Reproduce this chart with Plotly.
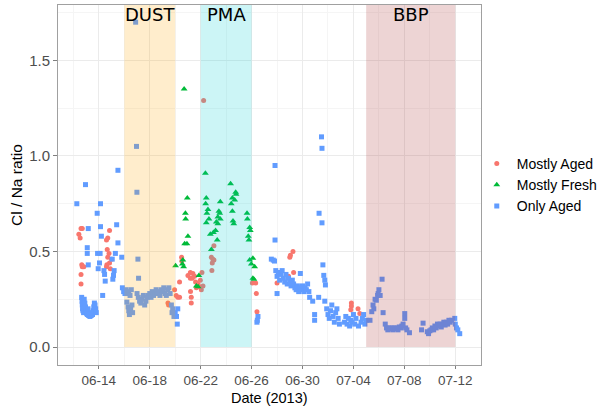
import plotly.graph_objects as go
import pandas as pd

# day numbers count from 2013-05-31 (June 14 = 14, July 5 = 35)
aged_day = [12.43, 12.53, 12.7, 12.6, 12.66, 12.7, 12.82, 12.6, 12.6, 14.84,
            14.7, 14.6, 14.66, 14.8, 15.0, 14.84, 14.63, 14.6, 14.9, 14.7,
            19.43, 19.48, 19.95, 20.08, 20.2, 20.34, 20.34, 20.5, 20.52, 21.19,
            21.39, 21.0, 21.52, 21.19, 21.34, 21.6, 21.78, 21.92, 21.66, 21.2,
            21.26, 21.26, 22.23, 23.04, 22.84, 22.96, 22.91, 23.04, 22.88, 22.1,
            21.97, 22.18, 22.05, 26.06, 26.32, 26.37, 26.42, 29.0, 29.25, 29.05,
            29.3, 28.9, 28.0, 33.84, 33.84, 33.79, 34.36, 34.5]
aged_ratio = [0.59, 0.57, 0.62, 0.62, 0.43, 0.42, 0.42, 0.38, 0.33, 0.61,
              0.57, 0.56, 0.51, 0.49, 0.46, 0.44, 0.43, 0.42, 0.41, 0.47,
              0.23, 0.22, 0.30, 0.27, 0.26, 0.26, 0.34, 0.47, 0.45, 0.39,
              0.385, 0.375, 0.37, 0.36, 0.36, 0.34, 0.33, 0.315, 0.31, 0.29,
              0.26, 0.23, 1.29, 0.53, 0.47, 0.46, 0.44, 0.455, 0.40, 0.39,
              0.35, 0.32, 0.30, 0.335, 0.335, 0.28, 0.185, 0.47, 0.50, 0.48,
              0.39, 0.37, 0.335, 0.23, 0.215, 0.195, 0.20, 0.175]

fresh_day = [20.7, 20.95, 20.8, 20.82, 21.0, 20.74, 20.92, 20.03, 20.6, 20.56,
             20.66, 21.66, 21.8, 21.86, 22.37, 22.44, 22.39, 22.57, 22.49, 22.65,
             22.44, 22.84, 22.76, 23.0, 23.17, 23.3, 23.54, 23.43, 23.5, 23.35,
             23.54, 23.23, 23.35, 24.35, 24.75, 24.78, 24.49, 24.67, 24.4, 24.49,
             24.54, 24.6, 25.64, 25.67, 25.85, 25.9, 25.74, 25.79, 25.85, 26.1,
             25.98, 26.24, 26.1, 26.18]
fresh_ratio = [1.35, 0.78, 0.70, 0.67, 0.58, 0.54, 0.54, 0.425, 0.455, 0.435,
               0.42, 0.32, 0.315, 0.375, 0.91, 0.78, 0.75, 0.72, 0.70, 0.67,
               0.65, 0.51, 0.59, 0.60, 0.61, 0.56, 0.76, 0.71, 0.70, 0.68,
               0.67, 0.655, 0.645, 0.855, 0.81, 0.80, 0.78, 0.77, 0.75, 0.71,
               0.66, 0.645, 0.70, 0.67, 0.625, 0.61, 0.58, 0.56, 0.455, 0.465,
               0.435, 0.42, 0.36, 0.355]

only_day = [12.27, 12.95, 13.17, 13.09, 13.09, 13.17, 13.87, 13.9, 14.05, 14.1,
            14.13, 14.13, 14.2, 13.95, 14.4, 14.45, 14.5, 14.3, 15.4, 15.5,
            15.5, 15.3, 15.05, 15.8, 15.2, 15.15, 15.1,
            12.65, 12.68, 12.7, 12.72, 12.75, 12.8, 12.85, 12.9, 12.95, 13.0,
            13.05, 13.1, 13.2, 13.3, 13.4, 13.5, 13.55, 13.6, 13.65, 13.7,
            13.75, 13.8, 13.35, 13.15,
            15.85, 15.95, 16.05, 16.15, 16.25, 16.35, 16.45, 16.55, 16.2, 16.3,
            16.35, 16.4, 16.5, 16.6, 16.65, 16.89, 16.96, 16.99, 17.07, 17.12,
            17.0, 17.1, 17.2, 17.3, 17.4, 17.5, 17.6, 17.7, 17.8, 17.9,
            18.0, 18.1, 18.2, 18.3, 18.4, 18.5, 18.6, 18.7, 18.8, 18.9,
            19.0, 19.1, 19.2, 19.3, 19.4, 19.5, 19.6, 19.7, 19.75, 19.8,
            19.9, 20.0, 20.1, 20.16, 20.2,
            26.5, 26.42, 26.45,
            27.84, 27.84, 27.55, 27.8, 27.7, 27.9, 28.0, 28.1, 28.2, 28.3,
            28.4, 28.5, 28.6, 28.7, 28.8, 28.9, 29.0, 29.1, 29.2, 29.3,
            28.0, 29.4, 29.5, 29.6, 29.7, 29.8, 29.83, 29.9, 30.0, 30.1,
            30.2, 30.3, 30.4, 30.5, 30.56, 30.8, 30.95, 30.95, 31.27, 31.3,
            31.49, 31.53, 31.53, 31.6, 31.67, 31.75, 31.8, 31.75,
            31.9, 32.0, 32.1, 32.2, 32.3, 32.4, 32.5, 32.6, 32.7, 32.8,
            32.9, 33.3, 33.4, 33.5, 33.6, 33.7, 33.8, 33.9, 34.0, 34.1,
            34.2, 34.4, 34.6, 34.7, 34.8, 34.9, 35.0,
            35.3, 35.44, 35.54, 35.6, 35.7, 35.8, 35.9, 35.94, 36.0, 36.1,
            36.25, 36.33, 36.5, 36.6, 36.7, 36.8, 36.9, 37.0, 37.1, 37.2,
            37.3, 37.4, 37.5, 37.6, 37.7, 37.8, 37.9, 38.03, 38.03, 38.1,
            38.2, 38.4, 39.35, 39.47, 39.8, 39.9, 40.0, 40.1, 40.2, 40.3,
            40.4, 40.5, 40.6, 40.7, 40.8, 40.9, 41.0, 41.1, 41.2, 41.3,
            41.4, 41.5, 41.6, 41.7, 41.96, 42.0, 42.1, 42.2, 42.35]
only_ratio = [0.75, 0.85, 0.62, 0.52, 0.49, 0.43, 0.70, 0.49, 0.44, 0.49,
              0.75, 0.63, 0.58, 0.41, 0.40, 0.38, 0.345, 0.27, 0.64, 0.545,
              0.925, 0.49, 0.46, 0.47, 0.40, 0.375, 0.355,
              0.26, 0.24, 0.22, 0.20, 0.19, 0.18, 0.25, 0.23, 0.21, 0.19,
              0.175, 0.17, 0.165, 0.16, 0.165, 0.17, 0.19, 0.21, 0.23, 0.22,
              0.20, 0.18, 0.18, 0.20,
              0.31, 0.29, 0.28, 0.30, 0.28, 0.29, 0.27, 0.30, 0.235, 0.21,
              0.19, 0.17, 0.20, 0.22, 0.18, 1.70, 1.05, 0.81, 0.46, 0.36,
              0.28, 0.26, 0.24, 0.23, 0.25, 0.27, 0.22, 0.24, 0.26, 0.27,
              0.28, 0.26, 0.29, 0.27, 0.28, 0.30, 0.28, 0.29, 0.27, 0.30,
              0.29, 0.31, 0.28, 0.27, 0.30, 0.31, 0.28, 0.22, 0.18, 0.20,
              0.16, 0.18, 0.16, 0.12, 0.20,
              0.16, 0.13, 0.14,
              0.95, 0.56, 0.46, 0.45, 0.455, 0.40, 0.37, 0.39, 0.35, 0.38,
              0.40, 0.36, 0.34, 0.38, 0.33, 0.36, 0.34, 0.32, 0.35, 0.33,
              0.28, 0.31, 0.30, 0.32, 0.29, 0.31, 0.385, 0.30, 0.32, 0.29,
              0.31, 0.30, 0.33, 0.29, 0.26, 0.24, 0.17, 0.14, 0.26, 0.70,
              1.10, 1.04, 0.65, 0.43, 0.375, 0.35, 0.325, 0.24,
              0.20, 0.17, 0.15, 0.19, 0.22, 0.16, 0.13, 0.18, 0.20, 0.15,
              0.12, 0.13, 0.16, 0.12, 0.15, 0.11, 0.14, 0.13, 0.17, 0.12,
              0.15, 0.11, 0.13, 0.15, 0.17, 0.12, 0.14,
              0.14, 0.185, 0.22, 0.20, 0.25, 0.245, 0.27, 0.28, 0.30, 0.27,
              0.355, 0.18, 0.12, 0.10, 0.09, 0.10, 0.095, 0.10, 0.09, 0.10,
              0.095, 0.10, 0.09, 0.105, 0.10, 0.11, 0.12, 0.175, 0.15, 0.10,
              0.09, 0.075, 0.09, 0.125, 0.08, 0.07, 0.085, 0.09, 0.10, 0.09,
              0.11, 0.10, 0.12, 0.11, 0.12, 0.105, 0.12, 0.13, 0.115, 0.13,
              0.12, 0.14, 0.13, 0.14, 0.15, 0.12, 0.10, 0.09, 0.07]

# event periods
event_names = ["DUST", "PMA", "BBP"]
event_start = ["2013-06-16", "2013-06-22", "2013-07-05"]
event_end = ["2013-06-20", "2013-06-26", "2013-07-12"]
event_label_x = ["2013-06-18", "2013-06-24", "2013-07-08 12:00"]
event_colors = ["rgba(255,165,0,0.2)", "rgba(0,206,209,0.2)", "rgba(165,42,42,0.2)"]


def to_dates(days):
    return pd.Timestamp("2013-05-31") + pd.to_timedelta(days, unit="D")


fig = go.Figure()

fig.add_trace(go.Scatter(
    x=to_dates(aged_day), y=aged_ratio, mode="markers", name="Mostly Aged",
    marker=dict(color="#F8766D", size=5, symbol="circle"),
))
fig.add_trace(go.Scatter(
    x=to_dates(fresh_day), y=fresh_ratio, mode="markers", name="Mostly Fresh",
    marker=dict(color="#00BA38", size=6, symbol="triangle-up"),
))
fig.add_trace(go.Scatter(
    x=to_dates(only_day), y=only_ratio, mode="markers", name="Only Aged",
    marker=dict(color="#619CFF", size=5, symbol="square"),
))

y_top = 1.79
for name, x0, x1, lx, col in zip(event_names, event_start, event_end, event_label_x, event_colors):
    fig.add_shape(type="rect", x0=x0, x1=x1, y0=0, y1=y_top, xref="x", yref="y",
                  fillcolor=col, line=dict(width=0), layer="above")
    fig.add_annotation(x=lx, y=1.74, text=name, showarrow=False,
                       font=dict(family="DejaVu Sans", size=18, color="black"))

# x axis title placed by hand, a little closer to the tick labels
fig.add_annotation(x=0.5, y=-0.091, xref="paper", yref="paper", text="Date (2013)",
                   showarrow=False, yanchor="middle", font=dict(size=14.5, color="black"))

grid = "#EBEBEB"
fig.update_layout(
    width=601, height=406,
    margin=dict(l=58, r=120, t=5, b=41, autoexpand=False),
    paper_bgcolor="white", plot_bgcolor="white",
    font=dict(family="Liberation Sans", size=14, color="black"),
    legend=dict(x=0.99, y=0.5, yanchor="middle", xanchor="left",
                font=dict(size=14), tracegroupgap=0, bgcolor="rgba(0,0,0,0)"),
    xaxis=dict(
        type="date",
        range=["2013-06-10 19:00", "2013-07-14 00:30"],
        tick0="2013-06-14", dtick=4 * 86400000, tickformat="%m-%d",
        tickfont=dict(size=13.5, color="#4D4D4D"),
        ticks="outside", ticklen=3, tickcolor="#7F7F7F",
        showgrid=True, gridcolor=grid, gridwidth=1,
        minor=dict(dtick=2 * 86400000, tick0="2013-06-14", showgrid=True, gridcolor="#F5F5F5"),
        showline=True, linecolor="#A0A0A0", mirror=True, zeroline=False,
    ),
    yaxis=dict(
        title=dict(text="Cl / Na ratio", font=dict(size=15.5), standoff=2),
        range=[-0.094, y_top],
        tickvals=[0, 0.5, 1.0, 1.5], ticktext=["0.0", "0.5", "1.0", "1.5"],
        tickfont=dict(size=15, color="#4D4D4D"),
        ticks="outside", ticklen=4, tickcolor="#7F7F7F",
        showgrid=True, gridcolor=grid, gridwidth=1,
        minor=dict(tickvals=[0.25, 0.75, 1.25, 1.75], showgrid=True, gridcolor="#F5F5F5"),
        showline=True, linecolor="#A0A0A0", mirror=True, zeroline=False,
    ),
)

# drop the default page margin so the figure sits at the window corner
fig.write_html("out.html", config={"displayModeBar": False},
               post_script="document.body.style.margin='0';")
